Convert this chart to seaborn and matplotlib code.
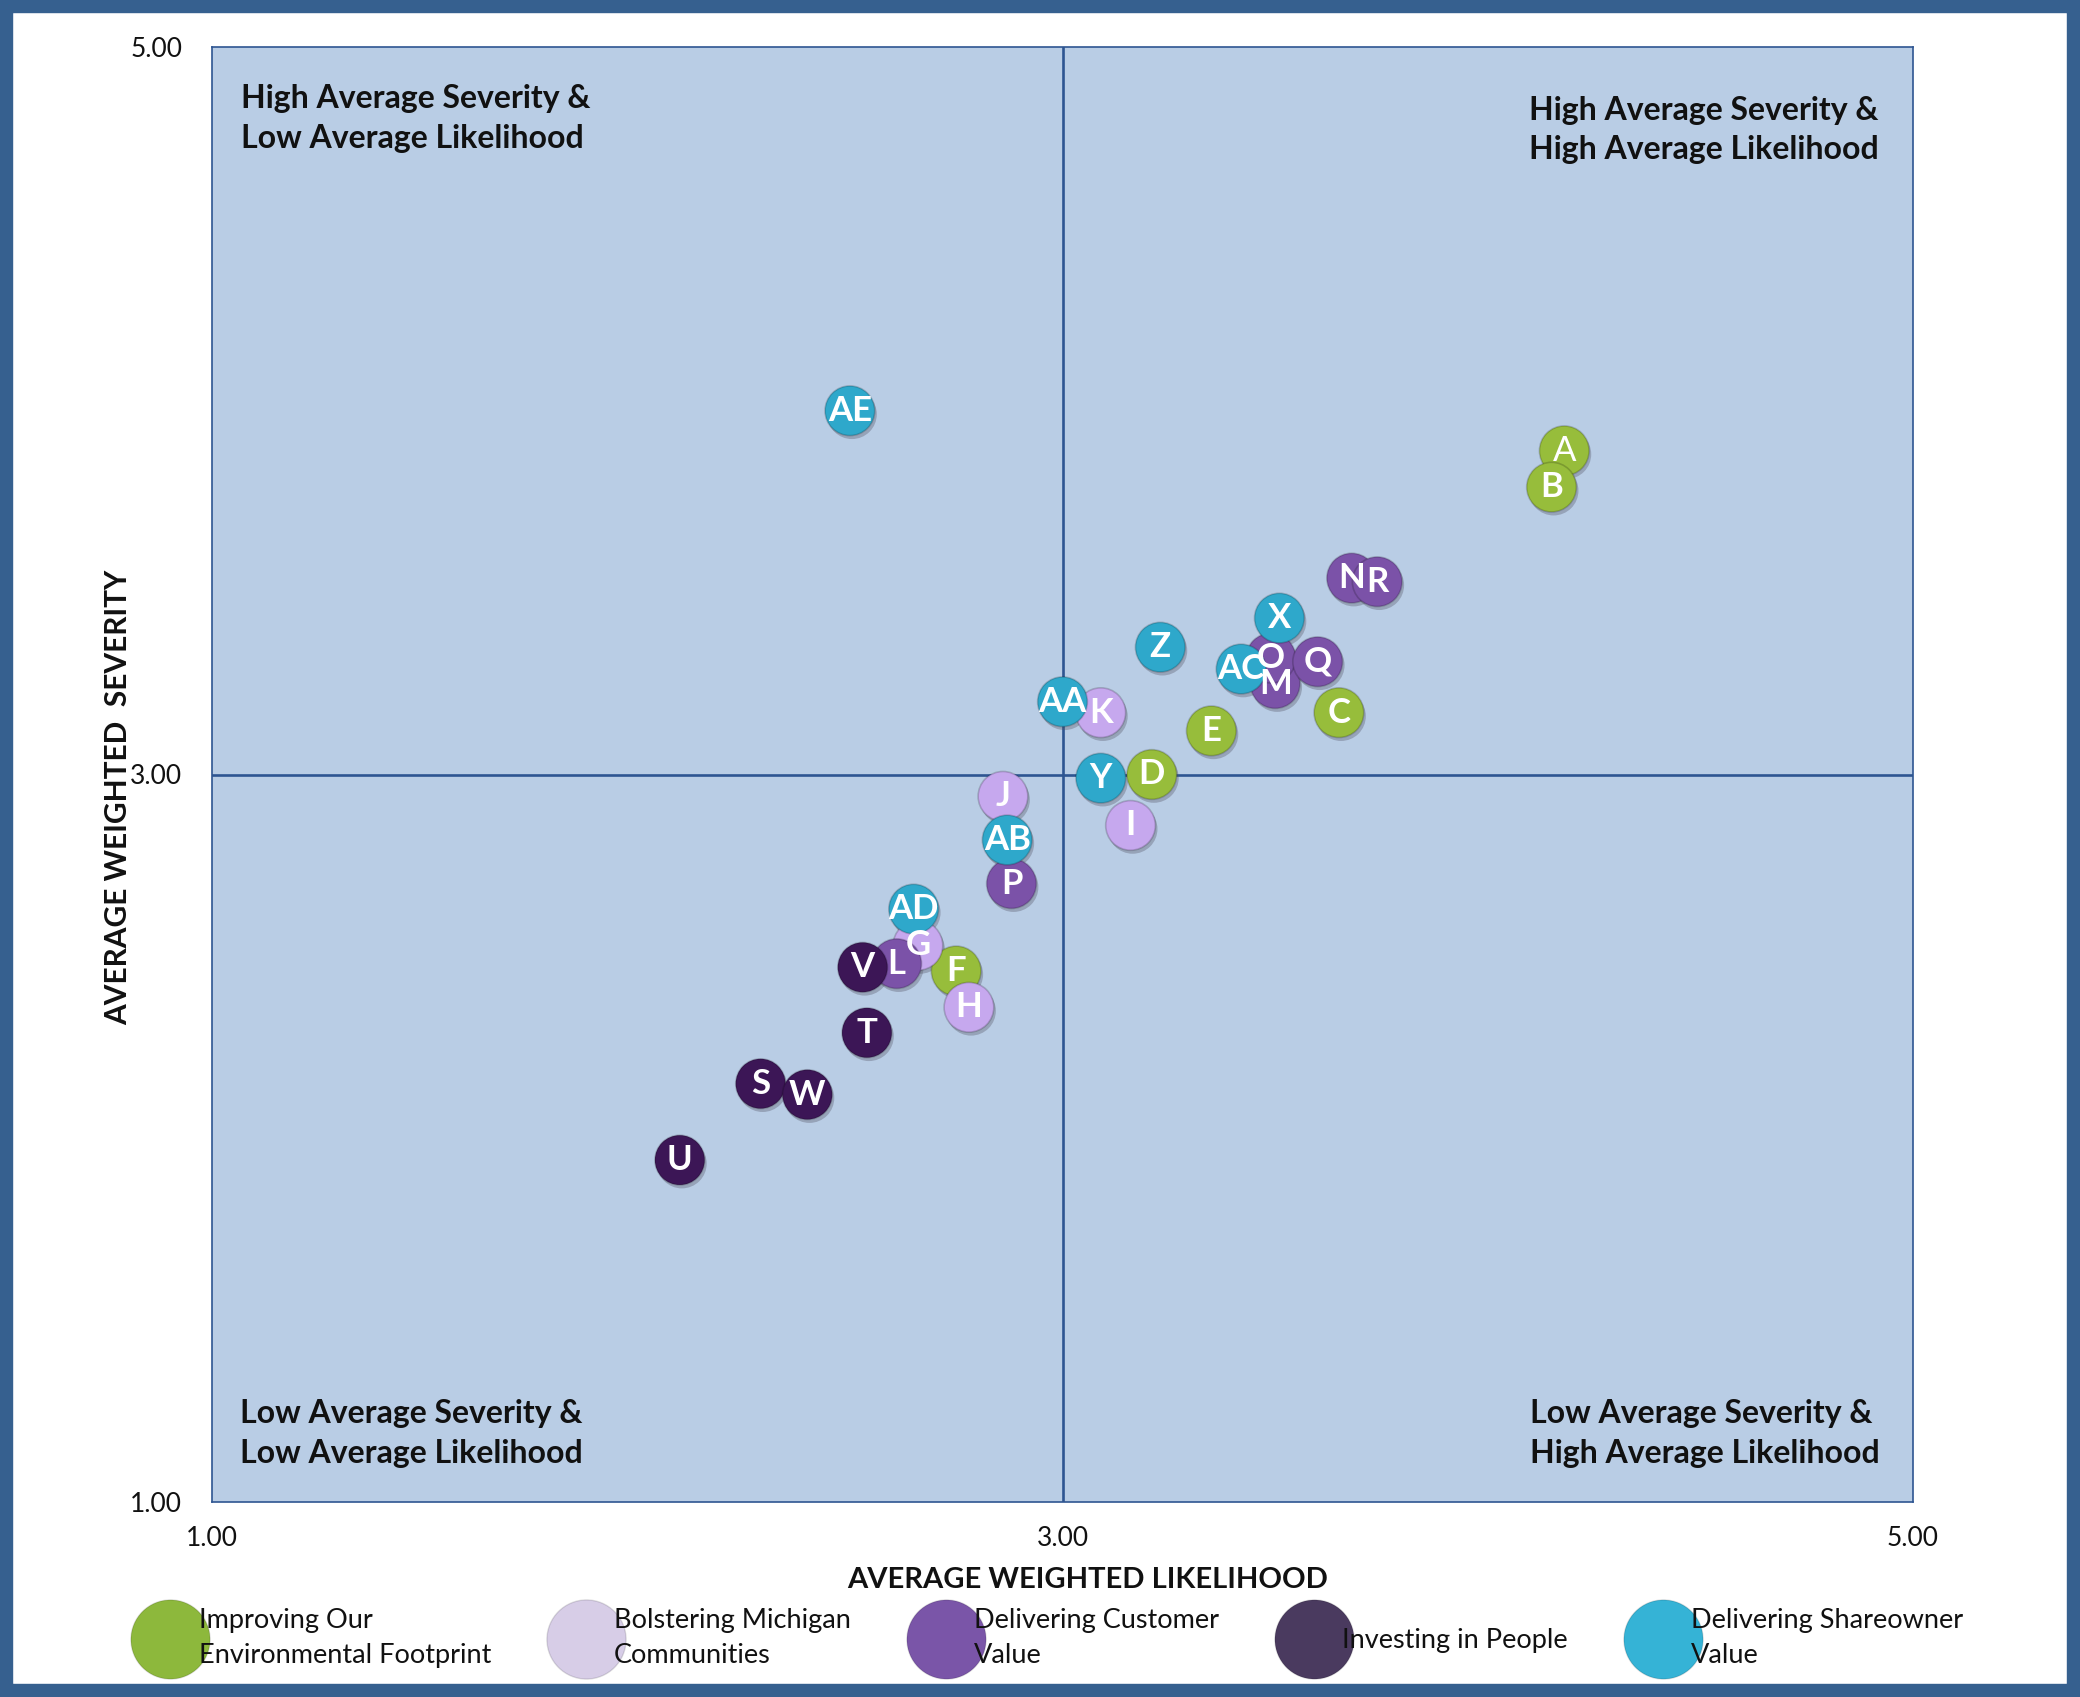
import numpy as np
import pandas as pd
import matplotlib
matplotlib.use("Agg")
import matplotlib.pyplot as plt
import seaborn as sns
from matplotlib.lines import Line2D
from matplotlib.patches import FancyBboxPatch
from matplotlib.ticker import FormatStrFormatter
import matplotlib.patheffects as pe

# ---------------- data ----------------
labels = ["A", "B", "C", "D", "E", "F",
          "G", "H", "I", "J", "K",
          "L", "M", "N", "O", "P", "Q", "R",
          "S", "T", "U", "V", "W",
          "X", "Y", "Z", "AA", "AB", "AC", "AD", "AE"]
likelihood = [4.18, 4.15, 3.65, 3.21, 3.35, 2.75,
              2.66, 2.78, 3.16, 2.86, 3.09,
              2.61, 3.50, 3.68, 3.49, 2.88, 3.60, 3.74,
              2.29, 2.54, 2.10, 2.53, 2.40,
              3.51, 3.09, 3.23, 3.00, 2.87, 3.42, 2.65, 2.50]
severity = [3.89, 3.79, 3.17, 3.00, 3.12, 2.46,
            2.53, 2.36, 2.86, 2.94, 3.17,
            2.48, 3.25, 3.54, 3.32, 2.70, 3.31, 3.53,
            2.15, 2.29, 1.94, 2.47, 2.12,
            3.43, 2.99, 3.35, 3.20, 2.82, 3.29, 2.63, 4.00]
cat_names = ["Improving Our\nEnvironmental Footprint",
             "Bolstering Michigan\nCommunities",
             "Delivering Customer\nValue",
             "Investing in People",
             "Delivering Shareowner\nValue"]
category = ([cat_names[0]] * 6 + [cat_names[1]] * 5 + [cat_names[2]] * 7 +
            [cat_names[3]] * 5 + [cat_names[4]] * 8)
x_ticks = [1.0, 3.0, 5.0]
y_ticks = [1.0, 3.0, 5.0]
quadrant_texts = ["High Average Severity &\nLow Average Likelihood",
                  "High Average Severity &\nHigh Average Likelihood",
                  "Low Average Severity &\nLow Average Likelihood",
                  "Low Average Severity &\nHigh Average Likelihood"]
x_title = "AVERAGE WEIGHTED LIKELIHOOD"
y_title = "AVERAGE WEIGHTED  SEVERITY"

# ---------------- styles ----------------
point_colors = ["#97BD3B", "#C6A8EE", "#7B52A8", "#3C1656", "#2EA8CB"]
legend_colors = ["#8DB83C", "#D7CDE7", "#7A55A8", "#4A3A5F", "#35B3D6"]
frame_blue = "#36608F"
line_blue = "#2E5591"
plot_bg = "#B9CDE5"

df = pd.DataFrame({"label": labels, "likelihood": likelihood,
                   "severity": severity, "category": category})

sns.set_theme(style="white")
plt.rcParams["font.family"] = ["Lato", "DejaVu Sans"]

W, H = 2080, 1697
fig = plt.figure(figsize=(W / 100, H / 100), dpi=100)
fig.patch.set_facecolor("white")

ax = fig.add_axes([212 / W, 1 - 1502 / H, 1701 / W, 1455 / H])
ax.set_facecolor(plot_bg)

sns.scatterplot(data=df, x="likelihood", y="severity", hue="category",
                hue_order=cat_names, palette=point_colors, s=1280,
                edgecolor=(0, 0, 0, 0.18), linewidth=1.2,
                legend=False, ax=ax, zorder=3)
for coll in ax.collections:
    coll.set_path_effects([pe.SimplePatchShadow(offset=(1.5, -2.5), alpha=0.35,
                                                shadow_rgbFace="#555566"),
                           pe.Normal()])

for _, r in df.iterrows():
    ax.text(r["likelihood"], r["severity"], r["label"], ha="center",
            va="center", color="white", fontsize=25,
            fontweight="normal" if r["label"] == "A" else "bold", zorder=6)

# quadrant lines
ax.axvline(3.0, color=line_blue, lw=1.9, zorder=2)
ax.axhline(3.0, color=line_blue, lw=1.9, zorder=2)

ax.set_xlim(1, 5)
ax.set_ylim(1, 5)
ax.set_xticks(x_ticks)
ax.set_yticks(y_ticks)
ax.xaxis.set_major_formatter(FormatStrFormatter("%.2f"))
ax.yaxis.set_major_formatter(FormatStrFormatter("%.2f"))
ax.tick_params(axis="both", direction="out", length=6.5, width=1.2,
               color=line_blue, labelsize=19, labelcolor="#111111")
ax.tick_params(axis="y", pad=15)
ax.tick_params(axis="x", pad=11)
for s in ax.spines.values():
    s.set_color(line_blue)
    s.set_linewidth(1.2)

ax.set_xlabel(x_title, fontsize=21, fontweight="bold", color="#111111")
ax.set_ylabel(y_title, fontsize=21.5, fontweight="bold", color="#111111")
ax.xaxis.set_label_coords(0.515, -0.045)
ax.yaxis.set_label_coords(-0.047, 0.4845)

qkw = dict(fontsize=23, fontweight="bold", color="#111111",
           transform=ax.transAxes, ha="left", va="center", linespacing=1.45)
ax.text(0.017, 0.951, quadrant_texts[0], **qkw)
ax.text(0.774, 0.943, quadrant_texts[1], **qkw)
ax.text(0.0164, 0.047, quadrant_texts[2], **qkw)
ax.text(0.7746, 0.047, quadrant_texts[3], **qkw)

# legend
handles = [Line2D([], [], marker="o", linestyle="", markersize=57,
                  markerfacecolor=c, markeredgecolor=(0, 0, 0, 0.12),
                  markeredgewidth=1.0) for c in legend_colors]
leg = fig.legend(handles, cat_names, loc="center left",
                 bbox_to_anchor=(143 / W, 1 - 1638 / H), ncol=5,
                 frameon=False, fontsize=19.5, handlelength=2.0,
                 handletextpad=0.05, columnspacing=2.5, borderpad=0,
                 borderaxespad=0)
for t in leg.get_texts():
    t.set_linespacing(1.5)
    t.set_color("#111111")

# outer rounded frame
frame = FancyBboxPatch((0, 0), 1, 1, boxstyle="round,pad=0,rounding_size=0.006",
                       transform=fig.transFigure, fill=False,
                       edgecolor=frame_blue, linewidth=19, zorder=10)
fig.patches.append(frame)

fig.savefig("out.png", dpi=100, facecolor="white")
